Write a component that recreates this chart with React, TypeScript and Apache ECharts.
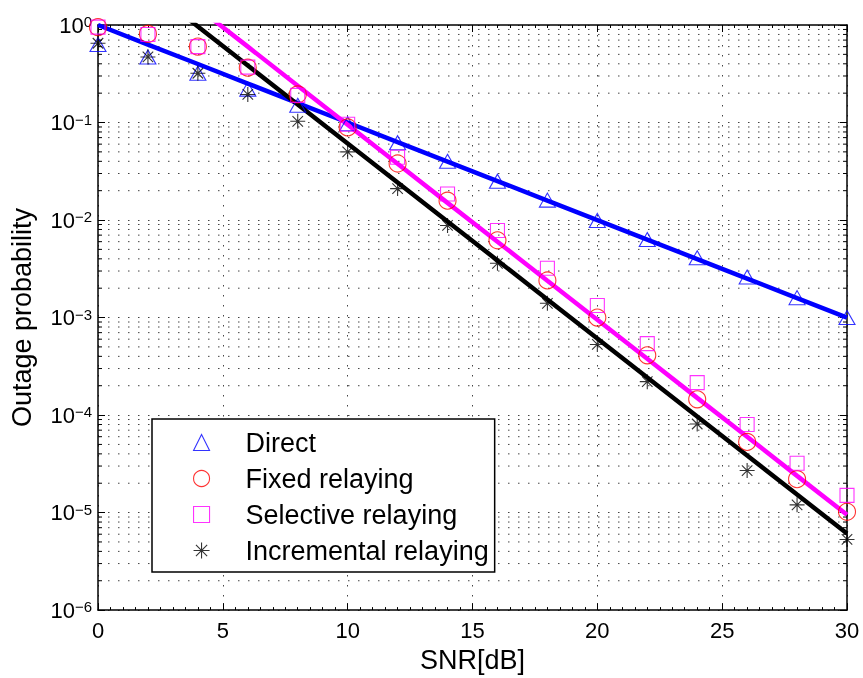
import React, { useEffect, useRef } from "react";
import * as echarts from "echarts";

const SNR = [0, 2, 4, 6, 8, 10, 12, 14, 16, 18, 20, 22, 24, 26, 28, 30];

const directSim = [0.63, 0.47, 0.32, 0.22, 0.15, 0.097, 0.062, 0.04, 0.025, 0.016, 0.0099, 0.0063, 0.0041, 0.0026, 0.0016, 0.001];
const fixedSim = [0.95, 0.81, 0.6, 0.365, 0.194, 0.089, 0.038, 0.0158, 0.0062, 0.0024, 0.001, 0.00041, 0.000145, 0.000053, 0.000022, 0.0000102];
const selectiveSim = [0.95, 0.8, 0.6, 0.37, 0.19, 0.096, 0.044, 0.0185, 0.0078, 0.0032, 0.00133, 0.00054, 0.000215, 0.00008, 0.000032, 0.000015];
const incrementalSim = [0.65, 0.47, 0.32, 0.194, 0.103, 0.05, 0.021, 0.0088, 0.0036, 0.0014, 0.00053, 0.00022, 0.000081, 0.000027, 0.000012, 0.0000053];

const directTheory = [1, 0.63, 0.398, 0.251, 0.158, 0.1, 0.063, 0.0398, 0.0251, 0.0158, 0.01, 0.0063, 0.00398, 0.00251, 0.00158, 0.001];
const fixedTheory = [9.5, 3.78, 1.5, 0.6, 0.238, 0.095, 0.0378, 0.015, 0.006, 0.00238, 0.00095, 0.000378, 0.00015, 0.00006, 0.0000238, 0.0000095];
const incrementalTheory = [6.1, 2.43, 0.967, 0.385, 0.153, 0.061, 0.0243, 0.00967, 0.00385, 0.00153, 0.00061, 0.000243, 0.0000967, 0.0000385, 0.0000153, 0.0000061];

const decades = [1e-6, 1e-5, 1e-4, 1e-3, 1e-2, 1e-1];
const minorMultipliers = [2, 3, 4, 5, 6, 7, 8, 9];

const legendNames = ["Direct", "Fixed relaying", "Selective relaying", "Incremental relaying"];

const FONT = "Liberation Sans, Arial, Helvetica, sans-serif";
const STAR = "path://M0,-10L0,10M-10,0L10,0M-7,-7L7,7M-7,7L7,-7";

const pairs = (ys: number[]) => SNR.map((x, i) => [x, ys[i]]);

export default function App() {
  const ref = useRef<HTMLDivElement>(null);
  useEffect(() => {
    if (!ref.current) return;
    const chart = echarts.init(ref.current, null, { renderer: "svg" });
    const minorVals: number[][] = [];
    decades.forEach((d) => minorMultipliers.forEach((m) => minorVals.push([0, d * m])));

    const markerSeries = (name: string, data: number[], symbol: string, size: any, color: string) => ({
      name,
      type: "scatter",
      data: pairs(data),
      symbol,
      symbolSize: size,
      z: 5,
      itemStyle: { color: "rgba(0,0,0,0)", borderColor: color, borderWidth: 1.1 },
      emphasis: { disabled: true },
    });
    const lineSeries = (name: string, data: number[], color: string) => ({
      name,
      type: "line",
      data: pairs(data),
      showSymbol: false,
      symbol: "none",
      clip: true,
      z: 3,
      lineStyle: { color, width: 4.5 },
      emphasis: { disabled: true },
    });

    chart.setOption({
      animation: false,
      textStyle: { fontFamily: FONT },
      grid: { left: 98, top: 25, right: 16, bottom: 64, containLabel: false },
      legend: {
        data: legendNames,
        orient: "vertical",
        left: 152,
        top: 419,
        padding: [10, 6, 8, 41],
        itemGap: 9,
        itemWidth: 16,
        itemHeight: 16,
        backgroundColor: "#fff",
        borderColor: "#000",
        borderWidth: 1.5,
        borderRadius: 0,
        selectedMode: false,
        itemStyle: { color: "rgba(0,0,0,0)", borderWidth: 1.1 },
        textStyle: { fontFamily: FONT, fontSize: 27, lineHeight: 26, color: "#000", padding: [0, 0, 0, 31] },
      },
      xAxis: [
        {
          type: "value",
          min: 0,
          max: 30,
          interval: 5,
          name: "SNR[dB]",
          nameLocation: "middle",
          nameGap: 33,
          nameTextStyle: { fontFamily: FONT, fontSize: 27, color: "#000", lineHeight: 27 },
          axisLine: { show: true, onZero: false, lineStyle: { color: "#000", width: 1.5 } },
          axisTick: { show: true, inside: true, length: 7, lineStyle: { color: "#000", width: 1 } },
          minorTick: { show: true, splitNumber: 10, length: 3, lineStyle: { color: "#000", width: 1 } },
          axisLabel: { fontFamily: FONT, fontSize: 22, color: "#000", margin: 9, formatter: (v: number) => String(v) },
          splitLine: { show: true, lineStyle: { color: "#444", width: 1, type: [1.5, 8.5] } },
        },
        {
          type: "value",
          position: "top",
          min: 0,
          max: 30,
          interval: 5,
          axisLine: { show: true, onZero: false, lineStyle: { color: "#000", width: 1.5 } },
          axisTick: { show: true, inside: true, length: 7, lineStyle: { color: "#000", width: 1 } },
          minorTick: { show: true, splitNumber: 10, length: 3, lineStyle: { color: "#000", width: 1 } },
          axisLabel: { show: false },
          splitLine: { show: false },
        },
      ],
      yAxis: [
        {
          type: "log",
          logBase: 10,
          min: 1e-6,
          max: 1,
          splitNumber: 6,
          name: "Outage probability",
          nameLocation: "middle",
          nameGap: 63,
          nameTextStyle: { fontFamily: FONT, fontSize: 27, color: "#000", lineHeight: 26 },
          axisLine: { show: true, onZero: false, lineStyle: { color: "#000", width: 1.5 } },
          axisTick: { show: true, inside: true, length: 7, lineStyle: { color: "#000", width: 1 } },
          axisLabel: {
            fontFamily: FONT,
            color: "#000",
            margin: 6,
            formatter: (v: number) => {
              const e = Math.round(Math.log10(v));
              return `{b|10}{s|${e === 0 ? "0" : "\u2212" + -e}}`;
            },
            rich: {
              b: { fontFamily: FONT, fontSize: 22, lineHeight: 22, color: "#000", verticalAlign: "bottom" },
              s: { fontFamily: FONT, fontSize: 15, lineHeight: 15, color: "#000", verticalAlign: "top", padding: [0, 0, 8, 0] },
            },
          },
          splitLine: { show: true, lineStyle: { color: "#444", width: 1, type: [1.5, 8.5] } },
        },
        {
          type: "log",
          logBase: 10,
          min: 1e-6,
          max: 1,
          splitNumber: 6,
          position: "right",
          axisLine: { show: true, onZero: false, lineStyle: { color: "#000", width: 1.5 } },
          axisTick: { show: true, inside: true, length: 7, lineStyle: { color: "#000", width: 1 } },
          axisLabel: { show: false },
          splitLine: { show: false },
        },
      ],
      series: [
        {
          name: "minorGrid",
          type: "custom",
          coordinateSystem: "cartesian2d",
          xAxisIndex: 0,
          yAxisIndex: 0,
          silent: true,
          z: 1,
          clip: false,
          encode: { x: 0, y: 1 },
          data: minorVals,
          renderItem: (params: any, api: any) => {
            const cs = params.coordSys;
            const y = api.coord([0, api.value(1)])[1];
            return {
              type: "group",
              children: [
                { type: "line", shape: { x1: cs.x, y1: y, x2: cs.x + cs.width, y2: y }, style: { stroke: "#444", lineWidth: 1, lineDash: [1.5, 8.5] } },
                { type: "line", shape: { x1: cs.x, y1: y, x2: cs.x + 4, y2: y }, style: { stroke: "#000", lineWidth: 1 } },
                { type: "line", shape: { x1: cs.x + cs.width - 4, y1: y, x2: cs.x + cs.width, y2: y }, style: { stroke: "#000", lineWidth: 1 } },
              ],
            };
          },
        },
        lineSeries("Direct theory", directTheory, "#0000ff"),
        lineSeries("Relaying theory", fixedTheory, "#ff00ff"),
        lineSeries("Incremental theory", incrementalTheory, "#000000"),
        markerSeries("Direct", directSim, "triangle", [16, 14], "#0000ff"),
        markerSeries("Fixed relaying", fixedSim, "circle", 17, "#ff0000"),
        markerSeries("Selective relaying", selectiveSim, "rect", 14, "#ff00ff"),
        markerSeries("Incremental relaying", incrementalSim, STAR, 15, "#000000"),
      ],
    });
    return () => chart.dispose();
  }, []);
  return <div ref={ref} style={{ position: "fixed", left: 0, top: 0, width: 863, height: 678 }} />;
}
